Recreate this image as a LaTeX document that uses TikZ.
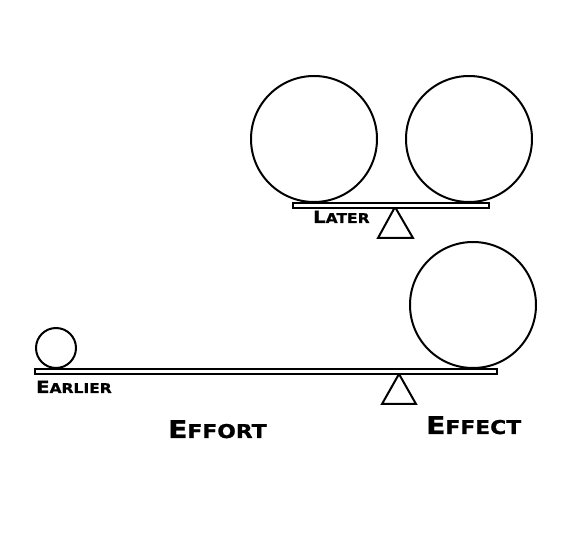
\documentclass[tikz,border=0pt]{standalone}
\usepackage{fontspec}
\newfontfamily\capfont[FakeStretch=1.15,FakeBold=1]{DejaVu Sans Bold}
\newcommand{\bigsc}[2]{{\capfont\fontsize{24.5}{26}\selectfont #1\fontsize{19}{20}\selectfont #2}}
\newcommand{\smallsc}[2]{{\capfont\fontsize{17}{18}\selectfont #1\fontsize{13.5}{14}\selectfont #2}}
\begin{document}
\begin{tikzpicture}[x=1pt,y=-1pt,
  ball/.style={draw=black,line width=2pt},
  plank/.style={draw=black,fill=white,line width=2pt},
  fulcrum/.style={draw=black,fill=white,line width=2pt,line join=miter},
  lbl/.style={inner sep=0pt,anchor=base west}]
\useasboundingbox (0,0) rectangle (574,548);
% top seesaw
\draw[ball] (314,139) circle (63);
\draw[ball] (469,139) circle (63);
\coordinate (tA) at (395,207);
\draw[fulcrum] (tA) -- (413,238) -- (378,238) -- cycle;
\draw[plank] (293,203) rectangle (489,208);
\node[lbl] (later) at (313,223) {\smallsc{L}{ATER}};
% bottom seesaw
\draw[ball] (56,348) circle (20);
\draw[ball] (473,305) circle (63);
\coordinate (bA) at (399,374);
\draw[fulcrum] (bA) -- (416,404) -- (382,404) -- cycle;
\draw[plank] (35,369) rectangle (497,374);
\node[lbl] (earlier) at (36,393) {\smallsc{E}{ARLIER}};
\node[lbl] (effort) at (168,438) {\bigsc{E}{FFORT}};
\node[lbl] (effect) at (426,434) {\bigsc{E}{FFECT}};
\end{tikzpicture}
\end{document}
